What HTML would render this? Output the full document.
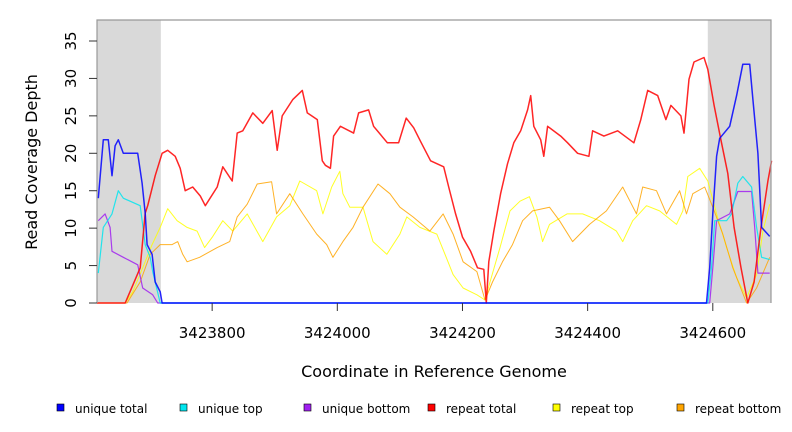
<!DOCTYPE html>
<html><head><meta charset="utf-8"><style>
html,body{margin:0;padding:0;background:#fff;}
svg{display:block;font-family:"DejaVu Sans","Liberation Sans",sans-serif;}
</style></head><body>
<svg id="chart" width="792" height="432" viewBox="0 0 792 432" xmlns="http://www.w3.org/2000/svg">
<g id="bg"></g><g id="series"></g><g id="axes"></g><g id="legend"></g>
</svg>
<script>
const xTicks=[3423800,3424000,3424200,3424400,3424600];
const yTicks=[0,5,10,15,20,25,30,35];
const shadeRanges=[[3423616,3423718],[3424592,3424693]];
const seriesNames=["unique total","unique top","unique bottom","repeat total","repeat top","repeat bottom"];
const seriesColors=["#0000ff","#00e5ee","#a020f0","#ff0000","#ffff00","#ffa500"];

const blueX=[3423618,3423626,3423634,3423640,3423645,3423650,3423658,3423681,3423688,3423693,3423696,3423704,3423709,3423717,3423720,3424590,3424595,3424600,3424606,3424611,3424627,3424638,3424648,3424659,3424664,3424672,3424678,3424691];
const blueY=[14,21.8,21.8,17,21,21.8,20,20,16,12,7.8,6.5,2.8,1.5,0,0,4.7,11.9,19.6,22,23.6,27.7,31.9,31.9,27.2,20,10.1,8.9];
const cyanX=[3423618,3423626,3423640,3423650,3423658,3423685,3423693,3423701,3423705,3423717,3424592,3424598,3424603,3424622,3424630,3424640,3424648,3424662,3424670,3424678,3424691];
const cyanY=[4,10.1,11.9,15,14,13,7.8,6.1,4.2,0,0,4.7,11,11,11.9,16,16.9,15.5,10.1,6.1,5.8];
const purpleX=[3423618,3423629,3423637,3423640,3423658,3423681,3423689,3423705,3423713,3424595,3424600,3424606,3424627,3424640,3424662,3424667,3424672,3424691];
const purpleY=[11,11.9,10.1,6.9,6.1,5.1,2,1.1,0,0,4.7,11,11.9,14.9,14.9,10.1,4,4];
const redX=[3423616,3423661,3423685,3423693,3423697,3423709,3423720,3423729,3423741,3423749,3423757,3423769,3423781,3423789,3423808,3423817,3423832,3423840,3423849,3423865,3423881,3423896,3423904,3423912,3423929,3423944,3423952,3423968,3423976,3423981,3423989,3423994,3424005,3424026,3424034,3424050,3424058,3424080,3424098,3424110,3424122,3424133,3424149,3424170,3424178,3424189,3424200,3424213,3424224,3424234,3424238,3424242,3424250,3424261,3424272,3424282,3424293,3424304,3424309,3424314,3424325,3424330,3424336,3424357,3424368,3424384,3424402,3424408,3424426,3424448,3424474,3424485,3424496,3424512,3424525,3424533,3424549,3424554,3424562,3424570,3424586,3424592,3424602,3424613,3424624,3424634,3424645,3424656,3424666,3424677,3424688,3424694];
const redY=[0,0,4.7,12,13,17,20,20.4,19.6,18,15,15.5,14.3,13,15.5,18.2,16.3,22.7,23,25.4,24,25.7,20.4,25,27.2,28.4,25.4,24.5,19,18.4,18,22.3,23.6,22.7,25.4,25.8,23.6,21.4,21.4,24.7,23.4,21.6,19,18.2,15.5,11.9,8.8,6.9,4.7,4.5,0,5.5,9.6,14.6,18.6,21.4,23,25.8,27.7,23.6,21.8,19.6,23.6,22.3,21.4,20,19.6,23,22.3,23,21.4,24.5,28.4,27.7,24.5,26.4,25,22.7,29.9,32.2,32.8,31.2,26.4,21.8,17.3,10.1,4.7,0,2.8,10.1,16.3,19];
const yellowX=[3423616,3423661,3423673,3423689,3423704,3423717,3423729,3423744,3423760,3423776,3423788,3423801,3423817,3423833,3423856,3423881,3423903,3423924,3423940,3423967,3423977,3423991,3424004,3424009,3424020,3424041,3424057,3424079,3424100,3424111,3424132,3424159,3424172,3424185,3424201,3424223,3424236,3424244,3424260,3424276,3424292,3424307,3424319,3424328,3424339,3424367,3424392,3424419,3424446,3424456,3424472,3424494,3424515,3424542,3424552,3424560,3424579,3424592,3424606,3424622,3424638,3424654,3424670,3424680,3424691];
const yellowY=[0,0,1.5,4.7,7.8,10.1,12.6,11,10.1,9.6,7.4,8.9,11,9.6,11.9,8.2,11.5,13,16.3,15,11.9,15.5,17.6,14.6,12.8,12.8,8.2,6.5,9.2,11.5,10.1,9.2,6.5,3.8,2,1.1,0.4,2.8,7.4,12.3,13.6,14.2,11.5,8.2,10.5,11.9,11.9,11,9.6,8.2,11,13,12.3,10.5,12.3,16.9,18,16.3,11.9,7.4,3.4,0.7,3.8,9.6,13.2];
const orangeX=[3423616,3423664,3423685,3423701,3423717,3423736,3423745,3423753,3423760,3423780,3423808,3423828,3423840,3423856,3423872,3423895,3423903,3423924,3423945,3423967,3423983,3423993,3424009,3424025,3424041,3424065,3424084,3424100,3424121,3424148,3424169,3424185,3424201,3424223,3424236,3424248,3424264,3424280,3424296,3424312,3424339,3424355,3424376,3424403,3424430,3424456,3424478,3424488,3424510,3424526,3424547,3424558,3424568,3424587,3424600,3424616,3424632,3424654,3424670,3424691];
const orangeY=[0,0,2.8,6.5,7.8,7.8,8.2,6.5,5.5,6.1,7.4,8.2,11.5,13.2,15.9,16.2,11.9,14.6,11.9,9.2,7.8,6.1,8.2,10.1,12.8,15.9,14.6,12.8,11.5,9.6,11.9,9.2,5.5,4.2,0.4,2.8,5.5,7.8,11,12.3,12.8,11,8.2,10.5,12.3,15.5,11.9,15.5,15,11.9,15,11.9,14.6,15.5,12.8,9.2,4.7,0,2,6.1];

const X0=97,X1=771,Y0=303,Y35=41;
const gMin=3423616,gMax=3424693;
function sx(g){return X0+(g-gMin)*(X1-X0)/(gMax-gMin);}
function sy(v){return Y0-v*(Y0-Y35)/35;}
const NS="http://www.w3.org/2000/svg";
function mk(tag,parent,attrs){const e=document.createElementNS(NS,tag);for(const k in attrs)e.setAttribute(k,attrs[k]);parent.appendChild(e);return e;}
const bg=document.getElementById('bg'),ser=document.getElementById('series'),ax=document.getElementById('axes'),lg=document.getElementById('legend');

const pb=mk('rect',bg,{x:X0,y:20,width:X1-X0,height:Y0-20,fill:'#fff'});


shadeRanges.forEach((r,i)=>{
  const s=mk('rect',bg,{x:sx(r[0]),y:20,width:sx(r[1])-sx(r[0]),height:Y0-20,fill:'#d9d9d9'});
  
  
});

function linePath(xs,ys){
  let d='M'+sx(xs[0]).toFixed(1)+','+sy(ys[0]).toFixed(1);
  for(let i=1;i<xs.length;i++){d+='L'+sx(xs[i]).toFixed(1)+','+sy(ys[i]).toFixed(1);}
  return d;
}
const allSeries=[
 [yellowX,yellowY,'#ffff00',1,'repeat-top-line'],
 [orangeX,orangeY,'#ffa500',1,'repeat-bottom-line'],
 [purpleX,purpleY,'#a020f0',1.2,'unique-bottom-line'],
 [cyanX,cyanY,'#00e5ee',1.2,'unique-top-line'],
 [redX,redY,'#ff0000',1.5,'repeat-total-line'],
 [blueX,blueY,'#0000ff',1.5,'unique-total-line']
];
const base=mk('line',ser,{x1:sx(3423717),x2:sx(3424592),y1:Y0,y2:Y0,stroke:'#5a5aff','stroke-width':1.3});


allSeries.forEach(s=>{
  const p=mk('path',ser,{d:linePath(s[0],s[1]),fill:'none',stroke:s[2],'stroke-width':s[3],'stroke-linejoin':'round',opacity:0.85});
  
  
});

const fr=mk('path',ax,{d:'M'+X0+','+Y0+'V20H'+X1+'V'+Y0,fill:'none',stroke:'#999','stroke-width':1.2});


yTicks.forEach(v=>{
  const t=mk('line',ax,{x1:89,x2:X0,y1:sy(v),y2:sy(v),stroke:'#333','stroke-width':1});
  
  
  const l=mk('text',ax,{x:0,y:0,transform:'translate(76,'+sy(v)+') rotate(-90)','text-anchor':'middle','font-size':15,fill:'#000'});
  l.textContent=v;
  
  
});
xTicks.forEach(v=>{
  const t=mk('line',ax,{x1:sx(v),x2:sx(v),y1:Y0,y2:311,stroke:'#333','stroke-width':1});
  
  
  const l=mk('text',ax,{x:sx(v),y:338,'text-anchor':'middle','font-size':15,fill:'#000'});
  l.textContent=v;
  
  
});
const yt=mk('text',ax,{x:0,y:0,transform:'translate(37,162) rotate(-90)','text-anchor':'middle','font-size':16,fill:'#000'});
yt.textContent='Read Coverage Depth';


const xt=mk('text',ax,{x:434,y:377,'text-anchor':'middle','font-size':16,fill:'#000'});
xt.textContent='Coordinate in Reference Genome';



const legX=[57,180,304,428,553,677];
seriesNames.forEach((n,i)=>{
  const r=mk('rect',lg,{x:legX[i],y:404,width:7,height:7,fill:seriesColors[i],stroke:'#000','stroke-width':0.6});
  
  
  const t=mk('text',lg,{x:legX[i]+18,y:413,'font-size':12,fill:'#000'});
  t.textContent=n;
  
  
});
</script>
</body></html>
